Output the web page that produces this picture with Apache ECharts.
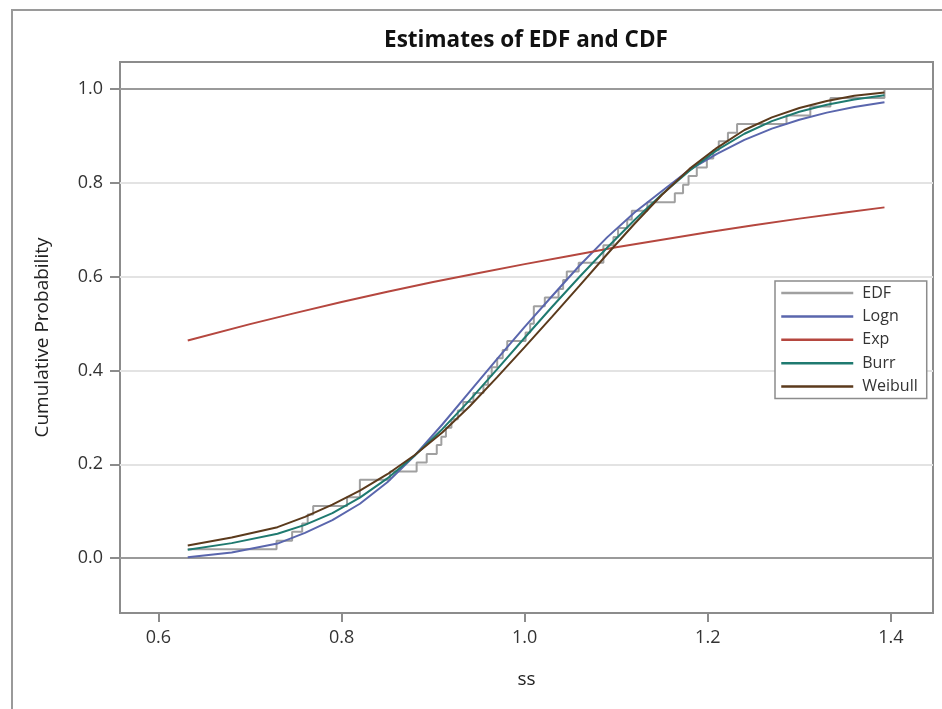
<!DOCTYPE html>
<html>
<head>
<meta charset="utf-8">
<script src="https://cdn.jsdelivr.net/npm/echarts@6/dist/echarts.min.js"></script>
<style>
  html, body { margin: 0; padding: 0; background: #fff; }
  #chart { width: 942px; height: 709px; }
</style>
</head>
<body>
<div id="chart"></div>
<script>
// tick values on the axes
var xTicks = [0.6, 0.8, 1.0, 1.2, 1.4];
var yTicks = [0.0, 0.2, 0.4, 0.6, 0.8, 1.0];

// empirical distribution (step points)
var edfX = [0.632, 0.729, 0.746, 0.757, 0.763, 0.769, 0.806, 0.820, 0.853, 0.882,
            0.893, 0.904, 0.909, 0.914, 0.920, 0.927, 0.933, 0.944, 0.955, 0.960,
            0.964, 0.970, 0.976, 0.981, 1.001, 1.006, 1.010, 1.022, 1.037, 1.042,
            1.046, 1.059, 1.086, 1.097, 1.102, 1.112, 1.117, 1.134, 1.164, 1.173,
            1.179, 1.188, 1.199, 1.206, 1.212, 1.222, 1.232, 1.286, 1.312, 1.334, 1.393];
var edfY = [0.019, 0.037, 0.056, 0.074, 0.093, 0.111, 0.130, 0.167, 0.185, 0.204,
            0.222, 0.241, 0.259, 0.278, 0.296, 0.315, 0.333, 0.352, 0.370, 0.389,
            0.407, 0.426, 0.444, 0.463, 0.481, 0.500, 0.537, 0.556, 0.574, 0.593,
            0.611, 0.630, 0.667, 0.685, 0.704, 0.722, 0.741, 0.759, 0.778, 0.796,
            0.815, 0.833, 0.852, 0.870, 0.889, 0.907, 0.926, 0.944, 0.963, 0.981, 1.000];

// fitted cdf curves
var curveX = [0.632, 0.68, 0.73, 0.76, 0.79, 0.82, 0.85, 0.88, 0.91, 0.94, 0.97, 1.00, 1.03,
              1.06, 1.09, 1.12, 1.15, 1.18, 1.21, 1.24, 1.27, 1.30, 1.33, 1.36, 1.393];
var lognY = [0.002, 0.012, 0.031, 0.054, 0.081, 0.116, 0.162, 0.219, 0.285, 0.355, 0.425, 0.493, 0.559,
             0.624, 0.684, 0.737, 0.783, 0.828, 0.862, 0.892, 0.916, 0.935, 0.950, 0.962, 0.972];
var burrY = [0.018, 0.032, 0.052, 0.071, 0.096, 0.129, 0.170, 0.219, 0.275, 0.337, 0.403, 0.470, 0.536,
             0.600, 0.662, 0.721, 0.776, 0.826, 0.870, 0.905, 0.932, 0.952, 0.967, 0.978, 0.987];
var weibullY = [0.027, 0.044, 0.066, 0.088, 0.114, 0.144, 0.179, 0.220, 0.268, 0.324, 0.386, 0.450, 0.515,
                0.581, 0.648, 0.713, 0.775, 0.830, 0.875, 0.913, 0.940, 0.960, 0.975, 0.986, 0.993];

var expX = [0.632, 0.70, 0.75, 0.80, 0.85, 0.90, 0.95, 1.00, 1.05, 1.10, 1.15, 1.20, 1.25, 1.30, 1.35, 1.393];
var expY = [0.464, 0.499, 0.523, 0.546, 0.568, 0.589, 0.608, 0.627, 0.645, 0.663, 0.679, 0.695, 0.710, 0.724, 0.737, 0.748];

function pairs(xs, ys) {
  return xs.map(function (x, i) { return [x, ys[i]]; });
}

var chart = echarts.init(document.getElementById('chart'));

var font = 'Open Sans';

var option = {
  animation: false,
  title: {
    text: 'Estimates of EDF and CDF',
    left: 521,
    top: 24,
    textAlign: 'center',
    textStyle: { fontFamily: font, fontWeight: 'bold', fontSize: 22.5, color: '#111' }
  },
  legend: {
    orient: 'vertical',
    left: 775,
    top: 281,
    padding: [4, 9, 4, 5],
    itemWidth: 72,
    itemHeight: 14,
    itemGap: 7.4,
    backgroundColor: '#fff',
    borderColor: '#8c8c8c',
    borderWidth: 1.5,
    itemStyle: { opacity: 0 },
    lineStyle: { width: 2.5 },
    textStyle: { fontFamily: font, fontSize: 16, color: '#333', padding: [0, 0, 0, 4] },
    data: ['EDF', 'Logn', 'Exp', 'Burr', 'Weibull']
  },
  graphic: [{
    type: 'rect',
    shape: { x: 12, y: 10, width: 1000, height: 800 },
    style: { fill: 'none', stroke: '#9a9a9a', lineWidth: 2 },
    silent: true
  }],
  grid: {
    left: 120, top: 62, right: 9, bottom: 96,
    show: true,
    borderColor: '#8c8c8c',
    borderWidth: 2
  },
  xAxis: {
    type: 'value',
    min: 0.558,
    max: 1.446,
    name: 'ss',
    nameLocation: 'middle',
    nameGap: 57,
    nameTextStyle: { fontFamily: font, fontSize: 19, color: '#222' },
    axisLine: { show: false, onZero: false },
    axisTick: { show: true, length: 9, customValues: xTicks, lineStyle: { color: '#8c8c8c', width: 2 } },
    axisLabel: {
      customValues: xTicks, margin: 16,
      fontFamily: font, fontSize: 18, color: '#333',
      formatter: function (v) { return v.toFixed(1); }
    },
    splitLine: { show: false }
  },
  yAxis: {
    type: 'value',
    min: -0.117,
    max: 1.058,
    name: 'Cumulative Probability',
    nameLocation: 'middle',
    nameGap: 68,
    nameTextStyle: { fontFamily: font, fontSize: 19, color: '#222' },
    axisLine: { show: false, onZero: false },
    axisTick: { show: true, length: 10, customValues: yTicks, lineStyle: { color: '#8c8c8c', width: 2 } },
    axisLabel: {
      customValues: yTicks, margin: 17,
      fontFamily: font, fontSize: 18, color: '#333',
      formatter: function (v) { return v.toFixed(1); }
    },
    splitLine: { show: false }
  },
  series: [
    {
      name: 'grid',
      type: 'line',
      data: [],
      z: 1,
      silent: true,
      markLine: {
        silent: true,
        z: 1,
        symbol: 'none',
        label: { show: false },
        data: [
          { yAxis: 0.2, lineStyle: { color: '#e3e3e3', width: 2, type: 'solid' } },
          { yAxis: 0.4, lineStyle: { color: '#e3e3e3', width: 2, type: 'solid' } },
          { yAxis: 0.6, lineStyle: { color: '#e3e3e3', width: 2, type: 'solid' } },
          { yAxis: 0.8, lineStyle: { color: '#e3e3e3', width: 2, type: 'solid' } },
          { yAxis: 0.0, lineStyle: { color: '#9a9a9a', width: 2, type: 'solid' } },
          { yAxis: 1.0, lineStyle: { color: '#9a9a9a', width: 2, type: 'solid' } }
        ]
      }
    },
    {
      name: 'EDF', type: 'line', step: 'end', symbol: 'none', z: 2,
      data: pairs(edfX, edfY),
      color: '#a0a0a0',
      lineStyle: { color: '#a0a0a0', width: 2 }
    },
    {
      name: 'Logn', type: 'line', symbol: 'none', z: 3,
      data: pairs(curveX, lognY),
      color: '#5a66ad',
      lineStyle: { color: '#5a66ad', width: 2 }
    },
    {
      name: 'Exp', type: 'line', symbol: 'none', z: 3,
      data: pairs(expX, expY),
      color: '#b5473f',
      lineStyle: { color: '#b5473f', width: 2 }
    },
    {
      name: 'Burr', type: 'line', symbol: 'none', z: 3,
      data: pairs(curveX, burrY),
      color: '#1f7a70',
      lineStyle: { color: '#1f7a70', width: 2 }
    },
    {
      name: 'Weibull', type: 'line', symbol: 'none', z: 3,
      data: pairs(curveX, weibullY),
      color: '#5b3a1c',
      lineStyle: { color: '#5b3a1c', width: 2 }
    }
  ]
};

chart.setOption(option);
</script>
</body>
</html>
